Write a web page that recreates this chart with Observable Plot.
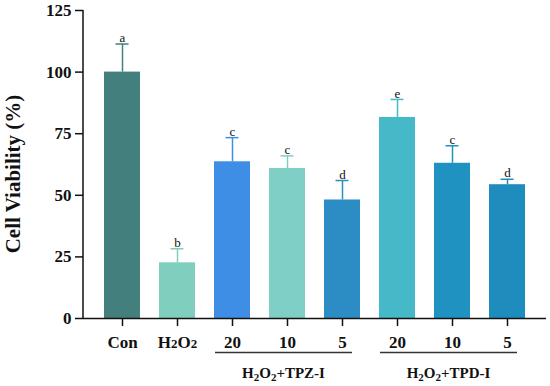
<!DOCTYPE html>
<html>
<head>
<meta charset="utf-8">
<script src="https://cdn.jsdelivr.net/npm/d3@7"></script>
<script src="https://cdn.jsdelivr.net/npm/@observablehq/plot@0.6"></script>
<style>
  body { margin: 0; background: #fff; }
  #chart svg, #chart svg text { font-family: 'Liberation Serif', 'Times New Roman', serif !important; }
</style>
</head>
<body>
<div id="chart"></div>
<script>
const categories = ["Con", "H2O2", "TPZ20", "TPZ10", "TPZ5", "TPD20", "TPD10", "TPD5"];
const tickLabels = ["Con", "H2O2", "20", "10", "5", "20", "10", "5"];
const means = [100, 22.6, 63.6, 60.9, 48.1, 81.6, 63.0, 54.3];
const errors = [11.4, 5.7, 9.8, 5.1, 7.9, 7.3, 7.1, 2.2];
const letters = ["a", "b", "c", "c", "d", "e", "c", "d"];
const colors = ["#437f7c", "#80cfbe", "#3f8ee6", "#80cfc6", "#2c8dc5", "#45b9c8", "#1f92c2", "#1f8cbe"];
const yTicks = [0, 25, 50, 75, 100, 125];
const groupLabels = ["TPZ-I", "TPD-I"];
const groupFirst = ["TPZ20", "TPD20"];
const groupLast = ["TPZ5", "TPD5"];

const data = categories.map((c, i) => ({
  cat: c, mean: means[i], top: means[i] + errors[i], letter: letters[i], color: colors[i]
}));

const serif = "'Liberation Serif', serif";

const plot = Plot.plot({
  width: 550,
  height: 386,
  marginLeft: 83,
  marginRight: 4,
  marginTop: 10,
  marginBottom: 68,
  style: { fontFamily: serif, background: "#fff" },
  x: { domain: categories, padding: 0.35, label: null },
  y: { domain: [0, 125], label: null },
  marks: [
    Plot.barY(data, { x: "cat", y: "mean", fill: "color" }),
    Plot.ruleX(data, { x: "cat", y1: "mean", y2: "top", stroke: "color", strokeWidth: 1.5 }),
    Plot.tickY(data, { x: "cat", y: "top", stroke: "color", strokeWidth: 1.5, insetLeft: 11.5, insetRight: 11.5 }),
    Plot.text(data, { x: "cat", y: "top", text: "letter", dy: -6, fontSize: 13, fill: "#111", fontFamily: serif }),
    Plot.ruleY([0], { stroke: "#111", strokeWidth: 1.5 }),
    Plot.axisX({ tickSize: 8, tickPadding: 9, tickFormat: (d) => tickLabels[categories.indexOf(d)], fontSize: 17, fontWeight: "bold", fontFamily: serif, strokeWidth: 1.5, color: "#111", label: null }),
    Plot.axisY({ ticks: yTicks, tickSize: 8, tickPadding: 4, fontSize: 17, fontWeight: "bold", fontFamily: serif, strokeWidth: 1.5, color: "#111", label: null })
  ]
});

const svg = d3.select(plot);
const xs = plot.scale("x");
const ys = plot.scale("y");
const bw = xs.bandwidth;
const x0 = 83;
svg.append("line")
  .attr("x1", x0).attr("x2", x0)
  .attr("y1", ys.apply(0)).attr("y2", ys.apply(125))
  .attr("stroke", "#111").attr("stroke-width", 1.5);

// smaller "2"s in the H2O2 tick label
svg.selectAll("text").each(function() {
  if (this.textContent === "H2O2") {
    const el = d3.select(this);
    el.text("");
    el.append("tspan").text("H");
    el.append("tspan").text("2").attr("font-size", 13);
    el.append("tspan").text("O");
    el.append("tspan").text("2").attr("font-size", 13);
  }
});

// Y axis title
svg.append("text")
  .attr("transform", `translate(20,${(ys.apply(0) + ys.apply(125)) / 2 + 10}) rotate(-90)`)
  .attr("text-anchor", "middle")
  .attr("font-family", serif)
  .attr("font-weight", "bold").attr("font-size", 21).attr("fill", "#111")
  .text("Cell Viability (%)");

groupLabels.forEach((g, i) => {
  const a = xs.apply(groupFirst[i]) + 1;
  const b = xs.apply(groupLast[i]) + bw - 8;
  svg.append("line")
    .attr("x1", a).attr("x2", b)
    .attr("y1", 352.5).attr("y2", 352.5)
    .attr("stroke", "#333").attr("stroke-width", 1.5);
  const t = svg.append("text")
    .attr("x", (a + b) / 2).attr("y", 378)
    .attr("text-anchor", "middle")
    .attr("font-family", serif)
    .attr("font-weight", "bold").attr("font-size", 15).attr("fill", "#111");
  t.append("tspan").text("H");
  t.append("tspan").text("2").attr("font-size", 11).attr("dy", 3);
  t.append("tspan").text("O").attr("dy", -3);
  t.append("tspan").text("2").attr("font-size", 11).attr("dy", 3);
  t.append("tspan").text("+" + g).attr("dy", -3);
});

document.getElementById("chart").appendChild(plot);
</script>
</body>
</html>
